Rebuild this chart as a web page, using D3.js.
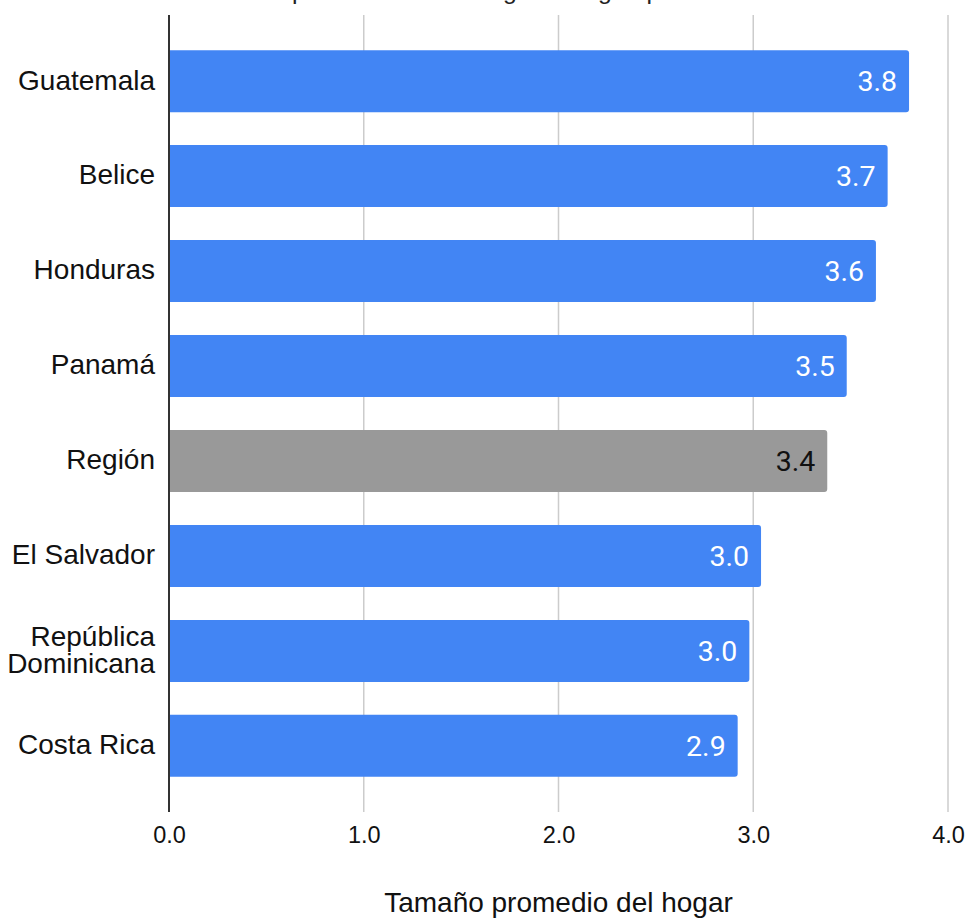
<!DOCTYPE html>
<html>
<head>
<meta charset="utf-8">
<script src="https://cdn.jsdelivr.net/npm/d3@7"></script>
<style>
  html, body { margin: 0; padding: 0; background: #ffffff; }
  svg { display: block; }
</style>
</head>
<body>
<div id="chart"></div>
<script>
// ---- Data ----
const categories = ["Guatemala", "Belice", "Honduras", "Panamá", "Región", "El Salvador", "República Dominicana", "Costa Rica"];
const values = [3.80, 3.69, 3.63, 3.48, 3.38, 3.04, 2.98, 2.92];
const highlighted = ["Región"];
const xTicks = [0, 1, 2, 3, 4];
const chartTitle = "Tamaño promedio de los hogares según país";
const xAxisTitle = "Tamaño promedio del hogar";

// ---- Layout ----
const W = 965, H = 918;
const plot = { left: 169, right: 948, top: 15, bottom: 812 };
const blue = "#4285f4", grey = "#999999";
const sans = "'Liberation Sans', Arial, Helvetica, sans-serif";

const svg = d3.select("#chart").append("svg").attr("width", W).attr("height", H);

const x = d3.scaleLinear().domain([0, 4]).range([plot.left, plot.right]);
const y = d3.scaleBand().domain(categories).range([plot.top, plot.bottom])
  .paddingInner(0.347).paddingOuter(0.37);

// Title (mostly cropped off above the viewport, as in the reference)
svg.append("text")
  .attr("x", 197).attr("y", -1)
  .attr("font-family", sans).attr("font-size", 24.8).attr("fill", "#222")
  .text(chartTitle);

// Gridlines
svg.append("g").selectAll("line")
  .data(xTicks.filter(d => d > 0))
  .join("line")
  .attr("x1", d => x(d)).attr("x2", d => x(d))
  .attr("y1", plot.top).attr("y2", plot.bottom)
  .attr("stroke", "#cccccc").attr("stroke-width", 1.5);

// Bars (rounded right corners)
const r = 3;
const data = categories.map((c, i) => ({ c, v: values[i] }));
svg.append("g").selectAll("path")
  .data(data)
  .join("path")
  .attr("d", d => {
    const x0 = x(0), x1 = x(d.v), y0 = y(d.c), h = y.bandwidth();
    const p = d3.path();
    p.moveTo(x0, y0);
    p.lineTo(x1 - r, y0);
    p.arcTo(x1, y0, x1, y0 + r, r);
    p.lineTo(x1, y0 + h - r);
    p.arcTo(x1, y0 + h, x1 - r, y0 + h, r);
    p.lineTo(x0, y0 + h);
    p.closePath();
    return p.toString();
  })
  .attr("fill", d => highlighted.includes(d.c) ? grey : blue);

// Value labels
svg.append("g").selectAll("text")
  .data(data)
  .join("text")
  .attr("x", d => x(d.v) - 12)
  .attr("y", d => y(d.c) + y.bandwidth() / 2)
  .attr("dy", "0.36em")
  .attr("text-anchor", "end")
  .attr("font-family", "Roboto, " + sans)
  .attr("font-size", 28.5)
  .attr("fill", d => highlighted.includes(d.c) ? "#111111" : "#ffffff")
  .text(d => d.v.toFixed(1));

// Category labels
const catG = svg.append("g");
data.forEach(d => {
  const words = d.c === "República Dominicana" ? ["República", "Dominicana"] : [d.c];
  const cy = y(d.c) + y.bandwidth() / 2;
  const t = catG.append("text")
    .attr("text-anchor", "end")
    .attr("font-family", sans)
    .attr("font-size", 28)
    .attr("fill", "#111111");
  words.forEach((w, i) => {
    t.append("tspan")
      .attr("x", plot.left - 14)
      .attr("y", cy + (i - (words.length - 1) / 2) * 27)
      .attr("dy", "0.3em")
      .text(w);
  });
});

// Vertical axis line at 0
svg.append("line")
  .attr("x1", x(0)).attr("x2", x(0))
  .attr("y1", plot.top).attr("y2", plot.bottom)
  .attr("stroke", "#333333").attr("stroke-width", 2);

// X axis tick labels
const xAxis = d3.axisBottom(x).tickValues(xTicks).tickFormat(d3.format(".1f")).tickSize(0).tickPadding(0);
const gx = svg.append("g").attr("transform", `translate(0, 843)`).call(xAxis);
gx.select(".domain").remove();
gx.selectAll("text")
  .attr("y", 0).attr("dy", 0)
  .attr("font-family", sans).attr("font-size", 23.5).attr("fill", "#111111");

// X axis title
svg.append("text")
  .attr("x", (plot.left + plot.right) / 2)
  .attr("y", 912)
  .attr("text-anchor", "middle")
  .attr("font-family", sans).attr("font-size", 28).attr("fill", "#111111")
  .text(xAxisTitle);
</script>
</body>
</html>
